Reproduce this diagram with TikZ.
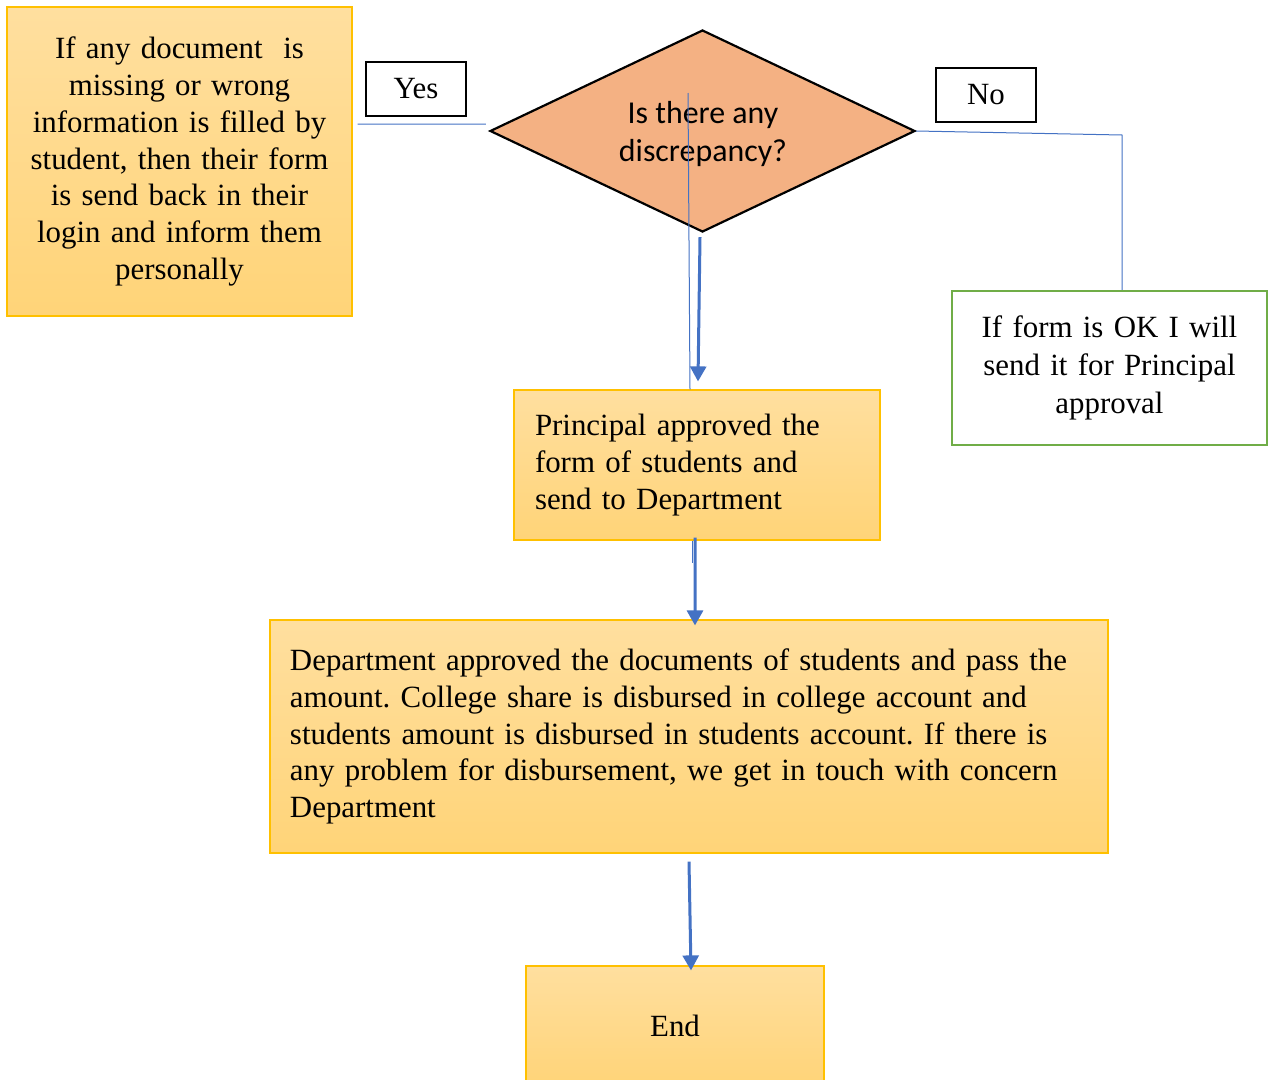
\documentclass[tikz,border=0pt]{standalone}
\usepackage{fontspec}
\setmainfont{Liberation Serif}
\newfontfamily\calib{Carlito}
\usetikzlibrary{shapes.geometric,arrows.meta}
\frenchspacing
\definecolor{boxtop}{HTML}{FFDF9F}
\definecolor{boxbot}{HTML}{FFD478}
\definecolor{boxedge}{HTML}{FFC000}
\definecolor{okedge}{HTML}{70AD47}
\definecolor{flowblue}{HTML}{4472C4}
\definecolor{decfill}{HTML}{F4B183}
\tikzset{
  stepbox/.style={draw=boxedge, line width=1.2bp, top color=boxtop, bottom color=boxbot,
    inner sep=0pt, font=\fontsize{31}{37}\selectfont},
  tagbox/.style={draw=black, line width=2.4bp, fill=white, minimum width=100bp,
    minimum height=54bp, inner sep=0pt, font=\fontsize{31}{37}\selectfont},
  okbox/.style={draw=okedge, line width=2.2bp, fill=white, inner sep=0pt,
    font=\fontsize{31}{38}\selectfont},
  decision/.style={diamond, draw=black, line width=2.2bp, fill=decfill, inner sep=0pt,
    minimum width=425bp, minimum height=202bp, aspect=2.1},
  thinlink/.style={draw=flowblue, line width=1bp},
  flow/.style={draw=flowblue, line width=3bp, -{Triangle[width=16bp,length=15bp]}, flowblue}
}
\begin{document}
\begin{tikzpicture}[x=1bp,y=-1bp]
\useasboundingbox (0,0) rectangle (1271,1080);
\clip (0,0) rectangle (1271,1080);
\fill[white] (0,0) rectangle (1271,1080);

% boxes
\node[stepbox, minimum width=345bp, minimum height=309bp, text width=335bp, align=center]
  (fix) at (179.5,161.5)
  {If any document~~is\\missing or wrong\\information is filled by\\student, then their form\\is send back in their\\login and inform them\\personally};

\node[decision] (disc) at (702.5,131) {};
\node[font=\calib\fontsize{32}{38}\selectfont, align=center, inner sep=0pt] (disctext) at (703,134)
  {Is there any\\discrepancy?};

\node[tagbox] (yes) at (416,89) {Yes};
\node[tagbox] (no) at (986,95) {No};

\node[okbox, minimum width=315bp, minimum height=154bp, text width=305bp, align=center]
  (ok) at (1109.5,368) {If form is OK I will\\send it for Principal\\approval};

\node[stepbox, minimum width=366bp, minimum height=150bp, text width=324bp, align=left]
  (prin) at (697,465) {Principal approved the\\form of students and\\send to Department};

\node[stepbox, minimum width=838bp, minimum height=233bp, text width=798bp, align=left]
  (dept) at (689,736.5)
  {Department approved the documents of students and pass the\\amount. College share is disbursed in college account and\\students amount is disbursed in students account. If there is\\any problem for disbursement, we get in touch with concern\\Department};

\node[stepbox, minimum width=298bp, minimum height=120bp] (finish) at (675,1026) {End};

% connectors
\draw[thinlink] ([xshift=5bp,yshift=37.5bp]fix.east) -- ([xshift=-3bp,yshift=7bp]disc.west);
\coordinate (nobend) at (1122,135);
\draw[thinlink] (disc.east) -- (nobend) -- (nobend |- ok.north);
\coordinate (vtop) at (688,93);
\draw[thinlink] (vtop) -- ([xshift=-7bp]prin.north);
\draw[flow] ([xshift=-2.5bp,yshift=-4bp]disc.south) -- ([xshift=1bp,yshift=8bp]prin.north);
\draw[thinlink] ([xshift=-5bp]prin.south) -- ++(0,22);
\draw[flow] ([xshift=-2bp,yshift=3bp]prin.south) -- ([xshift=6bp,yshift=-6bp]dept.north);
\draw[flow] ([yshift=-8bp]dept.south) -- ([xshift=16bp,yshift=-5bp]finish.north);
\end{tikzpicture}
\end{document}
